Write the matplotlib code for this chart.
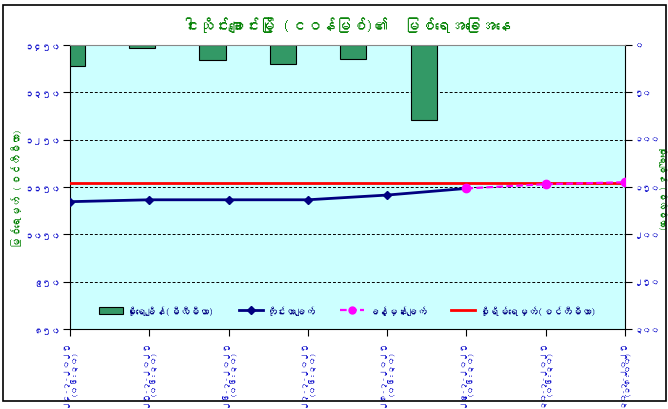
import matplotlib
matplotlib.use("Agg")
import matplotlib.pyplot as plt
from matplotlib import font_manager
from matplotlib.lines import Line2D
from matplotlib.patches import Rectangle

# look for any installed font that can draw Myanmar script
mm_font = None
try:
    from fontTools.ttLib import TTFont
    for f in font_manager.fontManager.ttflist:
        try:
            cmap = TTFont(f.fname, fontNumber=0, lazy=True).getBestCmap()
            if cmap and 0x1000 in cmap:
                mm_font = f.name
                break
        except Exception:
            pass
except Exception:
    pass
families = [mm_font, "DejaVu Sans"] if mm_font else ["DejaVu Sans"]
plt.rcParams["font.family"] = families

# data
dates = ["၂၄-၇-၂၀၂၅\n(၀၆:၃၀)", "၂၅-၇-၂၀၂၅\n(၀၆:၃၀)", "၂၆-၇-၂၀၂၅\n(၀၆:၃၀)",
         "၂၇-၇-၂၀၂၅\n(၀၆:၃၀)", "၂၈-၇-၂၀၂၅\n(၀၆:၃၀)", "၂၉-၇-၂၀၂၅\n(၀၆:၃၀)",
         "၃၀-၇-၂၀၂၅\n(၀၆:၃၀)", "၃၀-၇-၂၀၂၅\n(၁၈:၀၀)"]
rain = [22, 3.5, 16, 20, 15, 79.5]
measured = [1119, 1123, 1123, 1123, 1133, 1147]
forecast_x = [5, 6, 7]
forecast = [1147, 1156, 1160]
danger = 1159

left_ticks = [850, 950, 1050, 1150, 1250, 1350, 1450]
left_labels = ["၈၅၀", "၉၅၀", "၁၀၅၀", "၁၁၅၀", "၁၂၅၀", "၁၃၅၀", "၁၄၅၀"]
right_ticks = [0, 50, 100, 150, 200, 250, 300]
right_labels = ["၀", "၅၀", "၁၀၀", "၁၅၀", "၂၀၀", "၂၅၀", "၃၀၀"]

title = "ငါးသိုင်းချောင်းမြို့ (ငဝန်မြစ်)၏  မြစ်ရေအခြေအနေ"
left_title = "မြစ်ရေမှတ် (စင်တီမီတာ)"
right_title = "မိုးရေချိန် (မီလီမီတာ)"
legend_labels = ["မိုးရေချိန်(မီလီမီတာ)", "တိုင်းတာချက်", "ခန့်မှန်းချက်", "စိုးရိမ်ရေမှတ်(စင်တီမီတာ)"]

blue = "#1010CC"
green = "#008000"

fig = plt.figure(figsize=(6.68, 4.10), dpi=100)
fig.patches.append(Rectangle((0.004, 0.02), 0.993, 0.966, transform=fig.transFigure,
                             fill=False, edgecolor="black", linewidth=1.2))
pos = [0.1048, 0.1951, 0.8308, 0.6927]

# rainfall bars (bottom layer, right axis)
axr = fig.add_axes(pos)
axr.set_facecolor("#CCFFFF")
axr.bar(range(len(rain)), rain, width=0.37, color="#339966",
        edgecolor="black", linewidth=0.8, zorder=3)
axr.set_xlim(-0.024, 7.86)
axr.set_ylim(300, 0)
axr.set_xticks([])
axr.yaxis.tick_right()
axr.set_yticks(right_ticks)
axr.set_yticklabels(right_labels, color=blue, fontsize=6, fontweight="bold")
axr.tick_params(axis="y", direction="out", length=5, pad=2)
axr.yaxis.grid(True, color="black", linestyle=(0, (3, 2)), linewidth=0.7, zorder=1)
axr.set_ylabel(right_title, color=green, fontsize=6.5, rotation=270, va="center")
axr.yaxis.set_label_coords(1.068, 0.5)
for s in axr.spines.values():
    s.set_visible(False)
axr.spines["right"].set_visible(True)

# water levels (top layer, left axis)
ax = fig.add_axes(pos)
ax.patch.set_visible(False)
ax.plot(range(len(measured)), measured, color="#000080", linewidth=2,
        marker="D", markersize=4, zorder=4)
ax.plot(forecast_x, forecast, color="#FF00FF", linewidth=1.6, linestyle=(0, (3, 1.5)),
        marker="o", markersize=6, zorder=4)
ax.plot([0, len(dates) - 1], [danger, danger], color="#FF0000", linewidth=2, zorder=3)
ax.set_xlim(0, len(dates) - 1)
ax.set_ylim(850, 1450)
ax.set_yticks(left_ticks)
ax.set_yticklabels(left_labels, color=blue, fontsize=6.5, fontweight="bold")
ax.set_xticks(range(len(dates)))
ax.set_xticklabels(dates, rotation=90, color=blue, fontsize=6, fontweight="bold",
                   va="top", ha="center", linespacing=1.0)
ax.tick_params(axis="both", direction="out", length=5, pad=2)
ax.set_ylabel(left_title, color=green, fontsize=7.5, va="center")
ax.yaxis.set_label_coords(-0.097, 0.5)
ax.spines["top"].set_color("#888888")
ax.spines["right"].set_visible(False)

fig.text(0.52, 0.925, title, color=green, fontsize=11, fontweight="bold", ha="center")

handles = [Rectangle((0, 0), 1, 1, facecolor="#339966", edgecolor="black", linewidth=0.8),
           Line2D([], [], color="#000080", linewidth=2, marker="D", markersize=4),
           Line2D([], [], color="#FF00FF", linewidth=1.6, linestyle=(0, (3, 1.5)), marker="o", markersize=5),
           Line2D([], [], color="#FF0000", linewidth=2)]
leg = ax.legend(handles, legend_labels, loc="lower center", bbox_to_anchor=(0.5, 0.02),
                ncol=4, frameon=False, fontsize=7, handlelength=2.5, columnspacing=2.5,
                handletextpad=0.4)
for t in leg.get_texts():
    t.set_color("#000080")

fig.savefig("out.png", dpi=100)
